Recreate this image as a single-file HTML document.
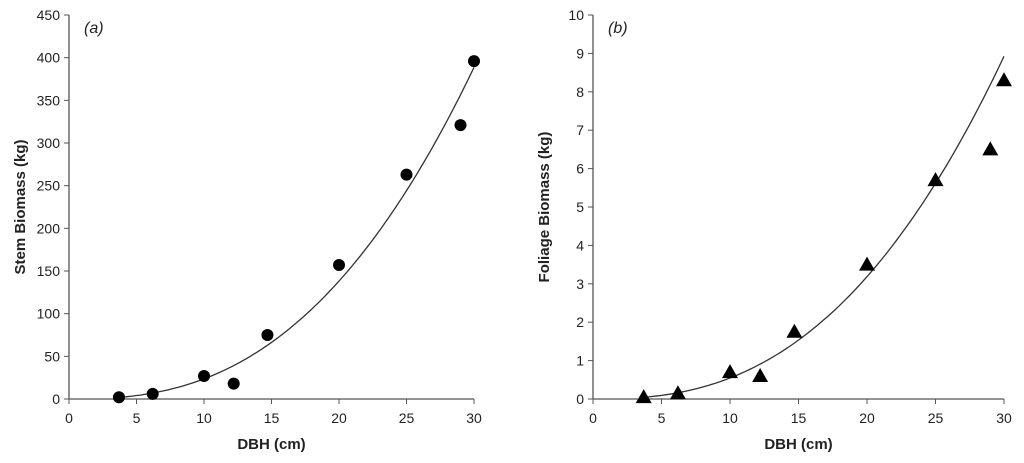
<!DOCTYPE html>
<html><head><meta charset="utf-8"><style>
body{margin:0;background:#fff;}
svg text{font-family:"Liberation Sans",Arial,sans-serif;fill:#222;}
</style></head><body>
<svg width="1024" height="458" viewBox="0 0 1024 458">
<g id="ga"></g>
<g id="gb"></g>
</svg>
<script>
const xTicks=[0,5,10,15,20,25,30];
const yTicksA=[0,50,100,150,200,250,300,350,400,450];
const yTicksB=[0,1,2,3,4,5,6,7,8,9,10];
const dbh=[3.7,6.2,10,12.2,14.7,20,25,29,30];
const stem=[2,6,27,18,75,157,263,321,396];
const foliage=[0.05,0.15,0.7,0.6,1.75,3.5,5.7,6.5,8.3];
const fitA=[0.0665,2.55];
const fitB=[0.00158,2.54];
const NS='http://www.w3.org/2000/svg';
function mk(p,t,a){const e=document.createElementNS(NS,t);for(const k in a)e.setAttribute(k,a[k]);p.appendChild(e);return e;}
function panel(g,cfg){
  const x=v=>cfg.x0+(v-0)/30*(cfg.x1-cfg.x0);
  const y=v=>cfg.y0-(v/cfg.ymax)*(cfg.y0-cfg.y1);
  const ax=mk(g,'path',{d:`M${cfg.x0},${cfg.y1}V${cfg.y0}H${cfg.x1}`,stroke:'#555',fill:'none','stroke-width':1.3});
  
  
  cfg.yt.forEach(v=>{
    mk(g,'line',{x1:cfg.x0-5,x2:cfg.x0,y1:y(v),y2:y(v),stroke:'#555'});
    const t=mk(g,'text',{x:cfg.x0-9,y:y(v)+5,'text-anchor':'end','font-size':14});t.textContent=v;
    
    
  });
  xTicks.forEach(v=>{
    mk(g,'line',{x1:x(v),x2:x(v),y1:cfg.y0,y2:cfg.y0+5,stroke:'#555'});
    const t=mk(g,'text',{x:x(v),y:cfg.y0+24,'text-anchor':'middle','font-size':14});t.textContent=v;
    
    
  });
  let d='';for(let i=0;i<=100;i++){const v=3.7+(30-3.7)*i/100;d+=(i?'L':'M')+x(v).toFixed(1)+','+y(cfg.fit[0]*Math.pow(v,cfg.fit[1])).toFixed(1);}
  const c=mk(g,'path',{d,stroke:'#333',fill:'none','stroke-width':1.3});
  
  
  dbh.forEach((v,i)=>{
    const px=x(v),py=y(cfg.vals[i]);let m;
    if(cfg.tri)m=mk(g,'path',{d:`M${px},${py-8}L${px+8},${py+6}L${px-8},${py+6}Z`,fill:'#000'});
    else m=mk(g,'circle',{cx:px,cy:py,r:6,fill:'#000'});
    
    
  });
  const xt=mk(g,'text',{x:(cfg.x0+cfg.x1)/2,y:cfg.y0+50,'text-anchor':'middle','font-size':15,'font-weight':'bold'});xt.textContent='DBH (cm)';
  
  
  const yc=(cfg.y0+cfg.y1)/2;
  const yt=mk(g,'text',{x:cfg.x0-44,y:yc,'text-anchor':'middle','font-size':15,'font-weight':'bold',transform:`rotate(-90 ${cfg.x0-44} ${yc})`});yt.textContent=cfg.title;
  
  
  const lb=mk(g,'text',{x:cfg.x0+15,y:cfg.y1+18,'font-size':16,'font-style':'italic'});lb.textContent=cfg.label;
  
  
}
panel(document.getElementById('ga'),{x0:69,x1:474,y0:399,y1:15,ymax:450,yt:yTicksA,vals:stem,fit:fitA,tri:false,title:'Stem Biomass (kg)',label:'(a)'});
panel(document.getElementById('gb'),{x0:593,x1:1004,y0:399,y1:15,ymax:10,yt:yTicksB,vals:foliage,fit:fitB,tri:true,title:'Foliage Biomass (kg)',label:'(b)'});
</script>
</body></html>
